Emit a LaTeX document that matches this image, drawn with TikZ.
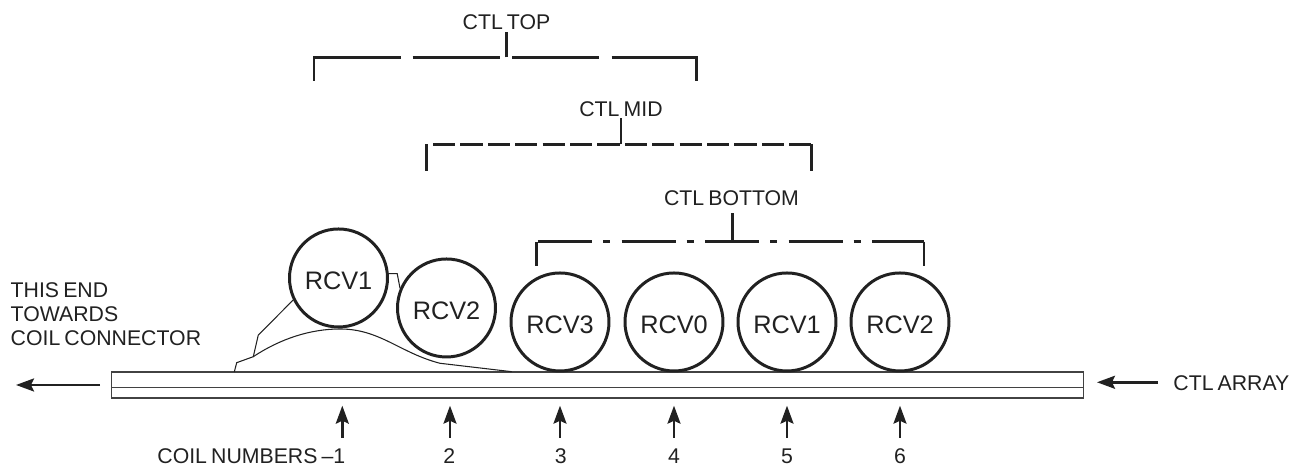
\documentclass[tikz,border=0pt]{standalone}
\usepackage{fontspec}
\setmainfont{Liberation Sans}[WordSpace=0.7]
\usetikzlibrary{arrows.meta}

\definecolor{inkc}{gray}{0.13}
\tikzset{
  rcv/.style={circle, draw=inkc, line width=0.85pt, minimum size=0.98cm, inner sep=0pt, text height=0.24cm, text depth=0cm, font=\fontsize{7.2}{8}\selectfont, text=inkc},
  lbl/.style={inner sep=0pt, font=\fontsize{6.05}{7}\selectfont, text=inkc},
  brk/.style={draw=inkc, line width=0.7pt},
  thinl/.style={draw=inkc, line width=0.3pt},
  arw/.style={draw=inkc, line width=0.7pt, -{Stealth[length=0.18cm,width=0.13cm,inset=0.03cm]}},
}

\begin{document}
\begin{tikzpicture}
  \useasboundingbox (0,0) rectangle (13.01,4.66);

  % array
  \node[draw=inkc!85, line width=0.4pt, minimum width=9.72cm, minimum height=0.26cm, inner sep=0pt] (array) at (5.975,0.81) {};
  \coordinate (midL) at (1.115,0.783);
  \coordinate (midR) at (10.835,0.783);
  \draw[draw=inkc!85, line width=0.4pt] (midL) -- (midR);

  % receivers
  \node[rcv] (rcvA) at (3.385,1.88) {RCV1};
  \node[rcv] (rcvB) at (4.465,1.58) {RCV2};
  \node[rcv] (rcvC) at (5.60,1.44) {RCV3};
  \node[rcv] (rcvD) at (6.74,1.44) {RCV0};
  \node[rcv] (rcvE) at (7.87,1.44) {RCV1};
  \node[rcv] (rcvF) at (9.00,1.44) {RCV2};

  % flex
  \coordinate (fA) at (2.343,0.94);
  \coordinate (fB) at (2.367,1.033);
  \coordinate (fC) at (2.533,1.093);
  \coordinate (fD) at (2.583,1.31);
  \coordinate (fE) at (4.40,1.027);
  \coordinate (fF) at (5.117,0.943);
  \draw[thinl] (fA) -- (fB) -- (fC) -- (fD) -- (rcvA.206);
  \draw[thinl] (fC) .. controls (2.80,1.27) and (3.10,1.37) .. (3.40,1.37)
     .. controls (3.80,1.37) and (4.00,1.13) .. (fE) -- (fF);
  \draw[thinl] (rcvA.5) -- ++(0.084,0) -- (rcvB.157);

  % brackets
  \coordinate (topL) at (3.14,3.85);
  \coordinate (topR) at (6.965,3.85);
  \draw[brk] (topL) -- (3.14,4.085) -- (4.007,4.085);
  \draw[brk] (4.127,4.085) -- (5.0,4.085);
  \draw[brk] (5.12,4.085) -- (5.99,4.085);
  \draw[brk] (6.117,4.085) -- (6.965,4.085) -- (topR);
  \draw[brk] (5.065,4.085) -- (5.065,4.34);

  \coordinate (midTL) at (4.267,2.95);
  \coordinate (midTR) at (8.115,2.945);
  \draw[brk] (midTL) -- (4.267,3.216);
  \draw[brk, dash pattern=on 0.222cm off 0.052cm] (4.33,3.216) -- (8.115,3.216);
  \draw[brk] (8.115,3.216) -- (midTR);
  \draw[brk] (6.21,3.216) -- (6.21,3.48);

  \coordinate (botL) at (5.367,2.003);
  \coordinate (botR) at (9.24,2.003);
  \draw[brk] (botL) -- (5.367,2.243);
  \draw[brk, dash pattern=on 0.54cm off 0.11cm on 0.07cm off 0.115cm] (5.38,2.243) -- (9.24,2.243);
  \draw[brk] (9.24,2.243) -- (botR);
  \draw[brk] (7.327,2.243) -- (7.327,2.53);

  % labels
  \node[lbl] (ctlTop) at (5.065,4.44) {CTL TOP};
  \node[lbl] (ctlMid) at (6.21,3.565) {CTL MID};
  \node[lbl] (ctlBot) at (7.315,2.673) {CTL BOTTOM};
  \node[lbl, anchor=base west] (thisEnd) at (0.10,1.68) {THIS END};
  \node[lbl, anchor=base west] (towards) at (0.10,1.44) {TOWARDS};
  \node[lbl, anchor=base west] (coilConn) at (0.10,1.20) {COIL CONNECTOR};
  \node[lbl, anchor=base west] (ctlArray) at (11.727,0.75) {CTL ARRAY};

  % arrows at ends
  \coordinate (leftA) at (1.00,0.81);
  \coordinate (leftB) at (0.16,0.81);
  \coordinate (rightA) at (11.58,0.837);
  \coordinate (rightB) at (10.97,0.837);
  \draw[arw] (leftA) -- (leftB);
  \draw[arw] (rightA) -- (rightB);

  % coil numbers
  \node[lbl, anchor=base west] (coilNum) at (1.567,0.02) {COIL NUMBERS --1};
  \foreach \n/\x in {a/3.423, b/4.50, c/5.60, d/6.74, e/7.87, f/9.00} {
    \coordinate (up\n) at (\x,0.283);
    \coordinate (tip\n) at (\x,0.603);
    \draw[arw] (up\n) -- (tip\n);
  }
  \foreach \n/\x/\t in {b/4.493/2, c/5.607/3, d/6.74/4, e/7.87/5, f/9.00/6} {
    \node[lbl, anchor=base] (num\n) at (\x,0.02) {\t};
  }
\end{tikzpicture}
\end{document}
